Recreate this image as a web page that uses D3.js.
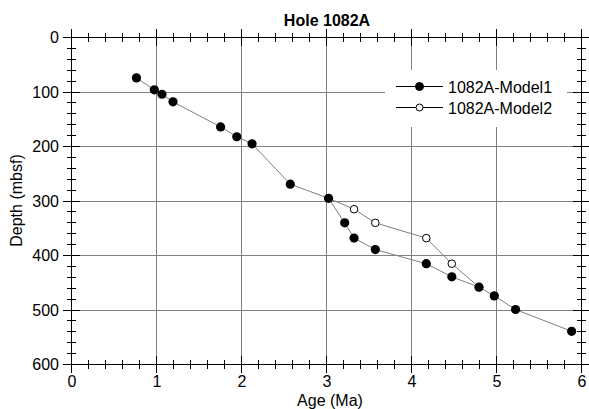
<!DOCTYPE html>
<html>
<head>
<meta charset="utf-8">
<script src="https://cdn.jsdelivr.net/npm/d3@7"></script>
<style>
  body { margin: 0; background: #fff; }
  text { font-family: "Liberation Sans", Arial, sans-serif; fill: #000; }
</style>
</head>
<body>
<div id="chart"></div>
<script>
// Age (Ma) vs depth (mbsf)
const model1Age   = [0.77, 0.98, 1.07, 1.20, 1.76, 1.95, 2.13, 2.58, 3.03, 3.22, 3.33, 3.58, 4.18, 4.48, 4.80, 4.98, 5.23, 5.89];
const model1Depth = [75, 97, 105, 119, 165, 183, 196, 270, 296, 341, 369, 390, 416, 440, 459, 475, 500, 540];
const model2Age   = [3.03, 3.33, 3.58, 4.18, 4.48, 4.80];
const model2Depth = [296, 316, 341, 369, 416, 459];
const seriesNames = ["1082A-Model1", "1082A-Model2"];
const xTickLabels = ["0", "1", "2", "3", "4", "5", "6"];
const yTickLabels = ["0", "100", "200", "300", "400", "500", "600"];

const width = 589, height = 409;
const plotL = 71, plotR = 581, plotT = 37, plotB = 364;

const x = d3.scaleLinear().domain([0, 6]).range([plotL, plotR]);
const y = d3.scaleLinear().domain([0, 600]).range([plotT, plotB]);

const svg = d3.select("#chart").append("svg")
  .attr("width", width)
  .attr("height", height);

// gridlines
const grid = svg.append("g").attr("stroke", "#808080").attr("stroke-width", 1);
grid.selectAll(".gx")
  .data(xTickLabels.map(Number).slice(1, -1))
  .join("line")
    .attr("x1", d => Math.round(x(d)) + 0.5).attr("x2", d => Math.round(x(d)) + 0.5)
    .attr("y1", plotT).attr("y2", plotB);
grid.selectAll(".gy")
  .data(yTickLabels.map(Number).slice(1, -1))
  .join("line")
    .attr("y1", d => Math.round(y(d)) + 0.5).attr("y2", d => Math.round(y(d)) + 0.5)
    .attr("x1", plotL).attr("x2", plotR);

// frame
svg.append("rect")
  .attr("x", plotL + 0.5).attr("y", plotT + 0.5)
  .attr("width", plotR - plotL).attr("height", plotB - plotT)
  .attr("fill", "none").attr("stroke", "#000");

// ticks crossing the frame on all four sides
const ticks = svg.append("g").attr("stroke", "#000").attr("stroke-width", 1);
const xMinor = d3.range(0, 6.001, 0.2);
const yMinor = d3.range(0, 600.1, 20);
const isMajX = d => Math.abs(d - Math.round(d)) < 1e-6;
const isMajY = d => Math.abs(d % 100) < 1e-6;

[plotT, plotB].forEach(yy => {
  ticks.append("g").selectAll("line")
    .data(xMinor)
    .join("line")
      .attr("x1", d => Math.round(x(d)) + 0.5).attr("x2", d => Math.round(x(d)) + 0.5)
      .attr("y1", d => yy - (isMajX(d) ? 8 : 4))
      .attr("y2", d => yy + (isMajX(d) ? 9 : 5));
});
[plotL, plotR].forEach(xx => {
  ticks.append("g").selectAll("line")
    .data(yMinor)
    .join("line")
      .attr("y1", d => Math.round(y(d)) + 0.5).attr("y2", d => Math.round(y(d)) + 0.5)
      .attr("x1", d => xx - (isMajY(d) ? 8 : 4))
      .attr("x2", d => xx + (isMajY(d) ? 9 : 5));
});

// tick labels
svg.append("g").selectAll("text")
  .data(xTickLabels)
  .join("text")
    .attr("x", d => x(+d) + 1)
    .attr("y", 387)
    .attr("text-anchor", "middle")
    .attr("font-size", 16)
    .text(d => d);
svg.append("g").selectAll("text")
  .data(yTickLabels)
  .join("text")
    .attr("x", 59)
    .attr("y", d => y(+d) + 6)
    .attr("text-anchor", "end")
    .attr("font-size", 16)
    .text(d => d);

// titles
svg.append("text")
  .attr("x", 327).attr("y", 26)
  .attr("text-anchor", "middle")
  .attr("font-size", 16).attr("font-weight", "bold")
  .text("Hole 1082A");
svg.append("text")
  .attr("x", 330).attr("y", 406)
  .attr("text-anchor", "middle")
  .attr("font-size", 16)
  .text("Age (Ma)");
svg.append("text")
  .attr("transform", "translate(22," + ((plotT + plotB) / 2) + ") rotate(-90)")
  .attr("text-anchor", "middle")
  .attr("font-size", 16)
  .text("Depth (mbsf)");

// series
const line = d3.line().x(d => x(d[0])).y(d => y(d[1]));
const m1 = model1Age.map((a, i) => [a, model1Depth[i]]);
const m2 = model2Age.map((a, i) => [a, model2Depth[i]]);

svg.append("path").datum(m2)
  .attr("d", line).attr("fill", "none").attr("stroke", "#808080").attr("stroke-width", 1);
svg.append("path").datum(m1)
  .attr("d", line).attr("fill", "none").attr("stroke", "#808080").attr("stroke-width", 1);

svg.append("g").selectAll("circle")
  .data(m2)
  .join("circle")
    .attr("cx", d => x(d[0])).attr("cy", d => y(d[1]))
    .attr("r", 3.8)
    .attr("fill", "#fff").attr("stroke", "#000").attr("stroke-width", 1);
svg.append("g").selectAll("circle")
  .data(m1)
  .join("circle")
    .attr("cx", d => x(d[0])).attr("cy", d => y(d[1]))
    .attr("r", 4.6)
    .attr("fill", "#000");

// legend
const legend = svg.append("g");
legend.append("rect")
  .attr("x", 385).attr("y", 70).attr("width", 182).attr("height", 57)
  .attr("fill", "#fff");
const entry = legend.selectAll(".entry")
  .data(seriesNames)
  .join("g")
    .attr("transform", (d, i) => `translate(0,${i === 0 ? 86.5 : 107.5})`);
entry.append("line")
  .attr("x1", 396).attr("x2", 443).attr("y1", 0).attr("y2", 0)
  .attr("stroke", "#000");
entry.append("circle")
  .attr("cx", 419.5).attr("cy", 0)
  .attr("r", (d, i) => i === 0 ? 4 : 3.5)
  .attr("fill", (d, i) => i === 0 ? "#000" : "#fff")
  .attr("stroke", "#000");
entry.append("text")
  .attr("x", 448).attr("y", 6)
  .attr("font-size", 16)
  .text(d => d);
</script>
</body>
</html>
